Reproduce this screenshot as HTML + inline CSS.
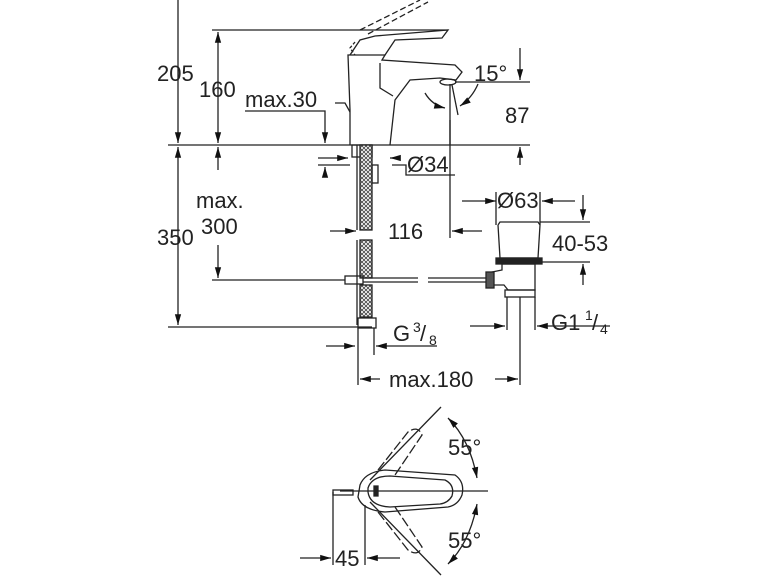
<!DOCTYPE html>
<html><head><style>
html,body{margin:0;padding:0;background:#fff;}
svg{display:block}
text{font-family:"Liberation Sans",sans-serif;fill:#222;}
</style></head><body>
<svg width="770" height="578" viewBox="0 0 770 578" xmlns="http://www.w3.org/2000/svg">
<defs>
<marker id="a" viewBox="0 0 12 10" refX="12" refY="5" markerWidth="12" markerHeight="9" orient="auto-start-reverse" markerUnits="userSpaceOnUse"><path d="M0,1.5 L12,5 L0,8.5 z" fill="#111"/></marker>
<pattern id="h" width="4" height="4" patternUnits="userSpaceOnUse"><rect width="4" height="4" fill="#fff"/><path d="M0,4 L4,0" stroke="#444" stroke-width="0.8"/><path d="M0,0 L4,4" stroke="#444" stroke-width="0.8"/></pattern>
</defs>
<g stroke="#222" stroke-width="1.3" fill="none">
<line x1="178" y1="0" x2="178" y2="143" marker-end="url(#a)"/>
<line x1="178" y1="147" x2="178" y2="325" marker-start="url(#a)" marker-end="url(#a)"/>
<line x1="218" y1="32" x2="218" y2="143" marker-start="url(#a)" marker-end="url(#a)"/>
<line x1="218" y1="147" x2="218" y2="170"  marker-start="url(#a)"/>
<line x1="218" y1="245" x2="218" y2="278" marker-end="url(#a)"/>
<line x1="212" y1="30" x2="448" y2="30"/>
<line x1="168" y1="145" x2="530" y2="145"/>
<line x1="168" y1="327" x2="372" y2="327"/>
<line x1="212" y1="280" x2="345" y2="280"/>
<polyline points="245,111 325,111 325,143" marker-end="url(#a)"/>
<line x1="325" y1="175" x2="325" y2="167" marker-end="url(#a)"/>
<line x1="318" y1="158" x2="348" y2="158" marker-end="url(#a)"/>
<line x1="318" y1="165" x2="350" y2="165"/>
<line x1="400" y1="158" x2="390" y2="158" marker-end="url(#a)"/>
<polyline points="392,165 406,165 406,175 455,175"/>
<path d="M350,145 L350,110 L348,55 L385,55 L382,60 L455,65 L462,72 L456,80 L440,78 L410,80 L395,100 L390,145" />
<path d="M380,63 L380,88 L393,96"/>
<path d="M350,55 L360,40 L375,36 L448,30 L442,38 L395,40 L385,55"/>
<path d="M355,42 L350,48 L355,55" stroke-dasharray="3,2"/>
<path d="M360,30 L420,0 M368,34 L428,2" stroke-dasharray="6,3"/>
<path d="M335,103 L345,103 L350,112"/>
<ellipse cx="448" cy="82" rx="8" ry="3"/>
<line x1="450" y1="84" x2="450" y2="145"/>
<line x1="452" y1="85" x2="458" y2="115"/>
<path d="M425,93 Q432,105 445,108" marker-end="url(#a)"/>
<path d="M478,84 Q472,98 460,106" marker-end="url(#a)"/>
<line x1="455" y1="82" x2="530" y2="82"/>
<line x1="520" y1="48" x2="520" y2="80" marker-end="url(#a)"/>
<line x1="520" y1="165" x2="520" y2="147" marker-end="url(#a)"/>
<rect x="352" y="145" width="20" height="12"/>
<rect x="360" y="145" width="12" height="85" fill="url(#h)"/>
<rect x="360" y="240" width="12" height="38" fill="url(#h)"/>
<rect x="360" y="285" width="12" height="32" fill="url(#h)"/>
<line x1="357" y1="145" x2="357" y2="230"/>
<line x1="357" y1="240" x2="357" y2="325"/>
<rect x="372" y="165" width="6" height="18"/>
<rect x="358" y="318" width="18" height="10"/>
<rect x="345" y="276" width="18" height="8"/>
<line x1="363" y1="278" x2="418" y2="278"/><line x1="363" y1="282" x2="418" y2="282"/>
<line x1="428" y1="278" x2="490" y2="278"/><line x1="428" y1="282" x2="490" y2="282"/>
<line x1="450" y1="120" x2="450" y2="238"/>
<line x1="330" y1="231" x2="356" y2="231" marker-end="url(#a)"/>
<line x1="482" y1="231" x2="452" y2="231" marker-end="url(#a)"/>
<line x1="462" y1="201" x2="496" y2="201" marker-end="url(#a)"/>
<line x1="575" y1="201" x2="542" y2="201" marker-end="url(#a)"/>
<line x1="496" y1="192" x2="496" y2="225"/><line x1="540" y1="192" x2="540" y2="225"/>
<path d="M498,225 L500,222 L538,222 L540,225 L538,258 L500,258 L498,225"/>
<rect x="496" y="258" width="46" height="6" fill="#222"/>
<path d="M502,264 L535,264 L535,290 L508,290 L504,285 L492,285 L492,272 L502,270 Z"/>
<rect x="486" y="272" width="8" height="16" fill="#555"/>
<rect x="505" y="290" width="30" height="7"/>
<line x1="507" y1="297" x2="507" y2="330"/><line x1="535" y1="297" x2="535" y2="330"/>
<line x1="520" y1="297" x2="520" y2="385"/>
<line x1="540" y1="222" x2="590" y2="222"/><line x1="542" y1="262" x2="590" y2="262"/>
<line x1="583" y1="195" x2="583" y2="220" marker-end="url(#a)"/>
<line x1="583" y1="285" x2="583" y2="264" marker-end="url(#a)"/>
<line x1="470" y1="326" x2="505" y2="326" marker-end="url(#a)"/>
<line x1="610" y1="326" x2="537" y2="326" marker-end="url(#a)"/>
<line x1="326" y1="346" x2="355" y2="346" marker-end="url(#a)"/>
<line x1="437" y1="346" x2="376" y2="346" marker-end="url(#a)"/>
<line x1="358" y1="328" x2="358" y2="385"/><line x1="374" y1="328" x2="374" y2="355"/>
<line x1="380" y1="379" x2="360" y2="379" marker-end="url(#a)"/>
<line x1="495" y1="379" x2="518" y2="379" marker-end="url(#a)"/>
<line x1="340" y1="491" x2="488" y2="491"/>
<path d="M360,485 Q365,472 385,470 L455,475 Q465,482 462,495 Q458,505 448,507 L385,512 Q362,510 358,497 Z"/>
<path d="M368,488 Q372,476 390,476 L445,480 Q455,485 452,496 Q448,503 440,504 L390,507 Q370,506 368,492 Z"/>
<path d="M374,486 L378,486 L378,496 L374,496 Z" fill="#222"/>
<line x1="370" y1="480" x2="441" y2="407"/>
<line x1="370" y1="502" x2="441" y2="575"/>
<path d="M378,470 L408,432 Q418,425 422,435 L395,475" stroke-dasharray="10,3"/>
<path d="M378,512 L408,550 Q418,557 422,547 L395,507" stroke-dasharray="10,3"/>
<path d="M448,418 Q470,440 477,478" marker-start="url(#a)" marker-end="url(#a)"/>
<path d="M448,564 Q470,542 477,504" marker-start="url(#a)" marker-end="url(#a)"/>
<rect x="333" y="490" width="20" height="5"/>
<line x1="333" y1="492" x2="333" y2="565"/><line x1="365" y1="505" x2="365" y2="565"/>
<line x1="300" y1="558" x2="331" y2="558" marker-end="url(#a)"/>
<line x1="400" y1="558" x2="367" y2="558" marker-end="url(#a)"/>
</g>
<g font-size="22">
<text x="157" y="81">205</text>
<text x="199" y="97">160</text>
<text x="245" y="107">max.30</text>
<text x="474" y="81">15°</text>
<text x="505" y="123">87</text>
<text x="407" y="172">Ø34</text>
<text x="196" y="208">max.</text>
<text x="201" y="234">300</text>
<text x="157" y="245">350</text>
<text x="497" y="208">Ø63</text>
<text x="388" y="239">116</text>
<text x="552" y="251">40-53</text>
<text x="551" y="330">G1</text><text x="585" y="320" font-size="14">1</text><text x="592" y="330">/</text><text x="600" y="334" font-size="14">4</text>
<text x="393" y="341">G</text><text x="413" y="332" font-size="14">3</text><text x="420" y="341">/</text><text x="429" y="345" font-size="14">8</text>
<text x="389" y="387">max.180</text>
<text x="448" y="455">55°</text>
<text x="448" y="548">55°</text>
<text x="335" y="566">45</text>
</g>
</svg>
</body></html>
